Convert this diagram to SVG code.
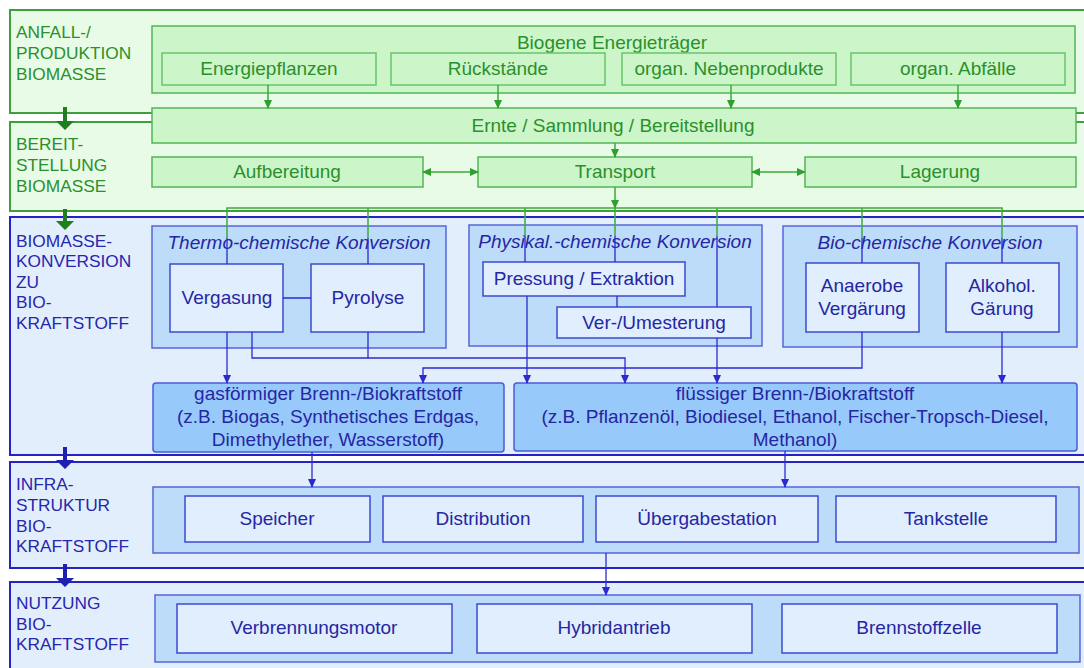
<svg xmlns="http://www.w3.org/2000/svg" width="1084" height="668" viewBox="0 0 1084 668">
<style>
text{font-family:"Liberation Sans",Arial,sans-serif;}
.sg{fill:#e8fbe7;stroke:#3f9f3f;stroke-width:2;}
.sb{fill:#e2eefc;stroke:#2323c8;stroke-width:2;}
.cg{fill:#ccf6c9;stroke:#55b455;stroke-width:1.5;}
.bg{fill:#ccf6c9;stroke:#6ac46a;stroke-width:1.5;}
.gb{fill:#bcdcfa;stroke:#5565dc;stroke-width:1.5;}
.ib{fill:#e0eefd;stroke:#3b49cf;stroke-width:1.5;}
.ob{fill:#98c9fb;stroke:#4b5bd8;stroke-width:1.5;}
.lg{fill:#2b902b;font-size:17.3px;}
.lb{fill:#2626ae;font-size:17.3px;}
.tg{fill:#2b902b;font-size:19px;text-anchor:middle;}
.tb{fill:#2626a2;font-size:19px;text-anchor:middle;}
.ti{fill:#2626a2;font-size:19px;text-anchor:middle;font-style:italic;}
.cgl{fill:none;stroke:#3caa3c;stroke-width:1.5;}
.cbl{fill:none;stroke:#2a2ad0;stroke-width:1.3;}
</style>
<defs>
<marker id="ag" markerWidth="9" markerHeight="8" refX="8" refY="4" orient="auto-start-reverse" markerUnits="userSpaceOnUse"><path d="M0,0 L9,4 L0,8 Z" fill="#2f9f2f"/></marker>
<marker id="ab" markerWidth="9" markerHeight="8" refX="8" refY="4" orient="auto" markerUnits="userSpaceOnUse"><path d="M0,0 L9,4 L0,8 Z" fill="#2a2ad0"/></marker>
</defs>

<g id="sec1">
<rect class="sg" x="10" y="10" width="1084" height="103"/>
<text class="lg" x="16" y="38">ANFALL-/</text>
<text class="lg" x="16" y="59">PRODUKTION</text>
<text class="lg" x="16" y="80">BIOMASSE</text>
</g>
<g id="sec2">
<rect class="sg" x="10" y="122" width="1084" height="89"/>
<text class="lg" x="16" y="150">BEREIT-</text>
<text class="lg" x="16" y="171">STELLUNG</text>
<text class="lg" x="16" y="192">BIOMASSE</text>
</g>
<g id="sec3">
<rect class="sb" x="10" y="217" width="1084" height="238"/>
<text class="lb" x="16" y="247">BIOMASSE-</text>
<text class="lb" x="16" y="267">KONVERSION</text>
<text class="lb" x="16" y="288">ZU</text>
<text class="lb" x="16" y="308">BIO-</text>
<text class="lb" x="16" y="329">KRAFTSTOFF</text>
</g>
<g id="sec4">
<rect class="sb" x="10" y="462" width="1084" height="106"/>
<text class="lb" x="16" y="490">INFRA-</text>
<text class="lb" x="16" y="511">STRUKTUR</text>
<text class="lb" x="16" y="532">BIO-</text>
<text class="lb" x="16" y="552">KRAFTSTOFF</text>
</g>
<g id="sec5">
<rect class="sb" x="10" y="582" width="1084" height="100"/>
<text class="lb" x="16" y="609">NUTZUNG</text>
<text class="lb" x="16" y="630">BIO-</text>
<text class="lb" x="16" y="650">KRAFTSTOFF</text>
</g>

<g id="biogene">
<rect class="cg" x="152" y="26" width="923" height="67"/>
<text class="tg" x="612" y="49">Biogene Energieträger</text>
</g>
<g id="energiepflanzen"><rect class="bg" x="162" y="53" width="214" height="32"/><text class="tg" x="269" y="75">Energiepflanzen</text></g>
<g id="rueckstaende"><rect class="bg" x="391" y="53" width="214" height="32"/><text class="tg" x="498" y="75">Rückstände</text></g>
<g id="nebenprodukte"><rect class="bg" x="622" y="53" width="214" height="32"/><text class="tg" x="729" y="75">organ. Nebenprodukte</text></g>
<g id="abfaelle"><rect class="bg" x="851" y="53" width="214" height="32"/><text class="tg" x="958" y="75">organ. Abfälle</text></g>
<g id="ernte"><rect class="cg" x="152" y="108" width="924" height="35"/><text class="tg" x="613" y="132">Ernte / Sammlung / Bereitstellung</text></g>
<g id="aufbereitung"><rect class="cg" x="152" y="157" width="271" height="30"/><text class="tg" x="287" y="178">Aufbereitung</text></g>
<g id="transport"><rect class="cg" x="478" y="157" width="274" height="30"/><text class="tg" x="615" y="178">Transport</text></g>
<g id="lagerung"><rect class="cg" x="805" y="157" width="271" height="30"/><text class="tg" x="940" y="178">Lagerung</text></g>

<g id="thermo">
<rect class="gb" x="152" y="226" width="294" height="122"/>
<text class="ti" x="299" y="249">Thermo-chemische Konversion</text>
</g>
<g id="vergasung"><rect class="ib" x="170" y="264" width="113" height="68"/><text class="tb" x="227" y="304">Vergasung</text></g>
<g id="pyrolyse"><rect class="ib" x="311" y="264" width="113" height="68"/><text class="tb" x="368" y="304">Pyrolyse</text></g>
<g id="physikal">
<rect class="gb" x="469" y="225" width="293" height="121"/>
<text class="ti" x="615" y="248">Physikal.-chemische Konversion</text>
</g>
<g id="pressung"><rect class="ib" x="483" y="262" width="202" height="34"/><text class="tb" x="584" y="285">Pressung / Extraktion</text></g>
<g id="umesterung"><rect class="ib" x="557" y="307" width="194" height="31"/><text class="tb" x="654" y="329">Ver-/Umesterung</text></g>
<g id="biochem">
<rect class="gb" x="783" y="226" width="294" height="121"/>
<text class="ti" x="930" y="249">Bio-chemische Konversion</text>
</g>
<g id="anaerobe"><rect class="ib" x="806" y="263" width="113" height="69"/><text class="tb" x="862" y="292">Anaerobe</text><text class="tb" x="862" y="315">Vergärung</text></g>
<g id="alkohol"><rect class="ib" x="946" y="263" width="113" height="69"/><text class="tb" x="1002" y="292">Alkohol.</text><text class="tb" x="1002" y="315">Gärung</text></g>

<g id="gasfoermig">
<rect class="ob" x="153" y="383" width="351" height="69" rx="3"/>
<text class="tb" x="328" y="400">gasförmiger Brenn-/Biokraftstoff</text>
<text class="tb" x="328" y="423">(z.B. Biogas, Synthetisches Erdgas,</text>
<text class="tb" x="328" y="446">Dimethylether, Wasserstoff)</text>
</g>
<g id="fluessig">
<rect class="ob" x="514" y="383" width="563" height="68" rx="3"/>
<text class="tb" x="795" y="400">flüssiger Brenn-/Biokraftstoff</text>
<text class="tb" x="795" y="423">(z.B. Pflanzenöl, Biodiesel, Ethanol, Fischer-Tropsch-Diesel,</text>
<text class="tb" x="795" y="446">Methanol)</text>
</g>

<g id="infra"><rect class="gb" x="153" y="487" width="926" height="66"/></g>
<g id="speicher"><rect class="ib" x="185" y="496" width="185" height="46"/><text class="tb" x="277" y="525">Speicher</text></g>
<g id="distribution"><rect class="ib" x="383" y="496" width="200" height="46"/><text class="tb" x="483" y="525">Distribution</text></g>
<g id="uebergabe"><rect class="ib" x="596" y="496" width="222" height="46"/><text class="tb" x="707" y="525">Übergabestation</text></g>
<g id="tankstelle"><rect class="ib" x="836" y="496" width="220" height="46"/><text class="tb" x="946" y="525">Tankstelle</text></g>

<g id="nutzung"><rect class="gb" x="155" y="595" width="925" height="67"/></g>
<g id="verbrennungsmotor"><rect class="ib" x="177" y="604" width="275" height="49"/><text class="tb" x="314" y="634">Verbrennungsmotor</text></g>
<g id="hybridantrieb"><rect class="ib" x="477" y="604" width="275" height="49"/><text class="tb" x="614" y="634">Hybridantrieb</text></g>
<g id="brennstoffzelle"><rect class="ib" x="782" y="604" width="275" height="49"/><text class="tb" x="919" y="634">Brennstoffzelle</text></g>

<g id="connectors">
<polygon fill="#1f7f1f" points="63,107 67,107 67,121 74,121 65,130 56,121 63,121"/>
<polygon fill="#1f7f1f" points="63,209 67,209 67,221 74,221 65,230 56,221 63,221"/>
<polygon fill="#1f1fb0" points="63,447 67,447 67,460 74,460 65,469 56,460 63,460"/>
<polygon fill="#1f1fb0" points="63,564 67,564 67,578 74,578 65,587 56,578 63,578"/>

<path class="cgl" d="M268,85V108" marker-end="url(#ag)"/>
<path class="cgl" d="M498,85V108" marker-end="url(#ag)"/>
<path class="cgl" d="M731,85V108" marker-end="url(#ag)"/>
<path class="cgl" d="M958,85V108" marker-end="url(#ag)"/>
<path class="cgl" d="M615,143V157" marker-end="url(#ag)"/>
<path class="cgl" d="M423,172H478" marker-start="url(#ag)" marker-end="url(#ag)"/>
<path class="cgl" d="M752,172H805" marker-start="url(#ag)" marker-end="url(#ag)"/>
<path class="cgl" d="M615,187V208" marker-end="url(#ag)"/>
<path class="cgl" d="M227,238V208H1002V238M368,208V238M525,208V236M615,208V236M717,208V236M862,208V238"/>

<path class="cbl" d="M227,238V264M368,238V264M525,236V262M615,236V262M717,236V307M862,238V263M1002,238V263"/>
<path class="cbl" d="M617,296V307M283,298H311M368,332V358"/>
<path class="cbl" d="M227,332V383" marker-end="url(#ab)"/>
<path class="cbl" d="M252,332V358H625V383" marker-end="url(#ab)"/>
<path class="cbl" d="M862,332V368H423V383" marker-end="url(#ab)"/>
<path class="cbl" d="M527,296V383" marker-end="url(#ab)"/>
<path class="cbl" d="M717,338V383" marker-end="url(#ab)"/>
<path class="cbl" d="M1002,332V383" marker-end="url(#ab)"/>
<path class="cbl" d="M312,452V487" marker-end="url(#ab)"/>
<path class="cbl" d="M785,451V487" marker-end="url(#ab)"/>
<path class="cbl" d="M606,553V595" marker-end="url(#ab)"/>
</g>
</svg>
